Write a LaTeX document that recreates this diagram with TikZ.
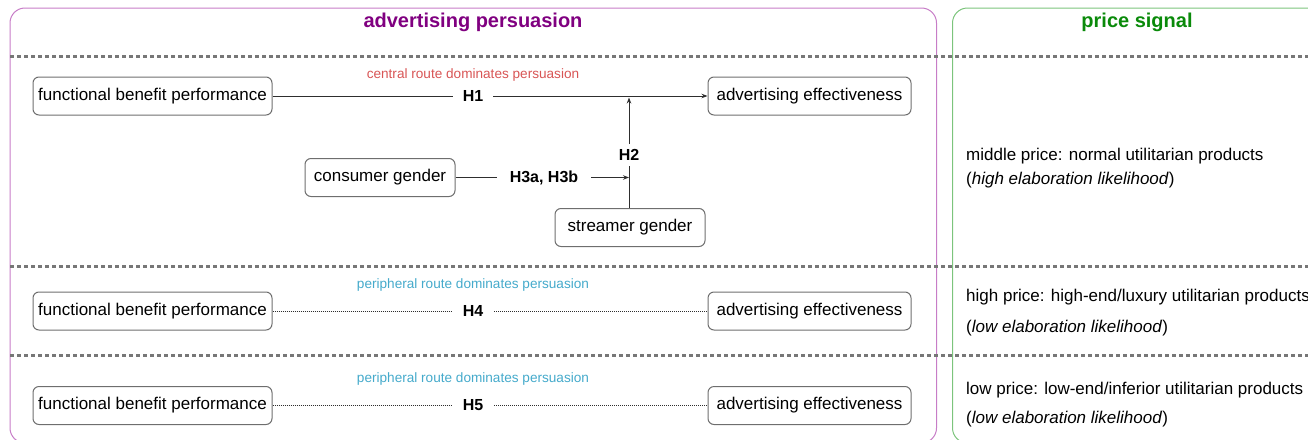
\documentclass[tikz,border=0pt]{standalone}
\usepackage{fontspec}
\setmainfont{Liberation Sans}
\usetikzlibrary{arrows.meta}
\definecolor{purpbox}{HTML}{C77DC7}
\definecolor{purptitle}{HTML}{800080}
\definecolor{greenbox}{HTML}{7CC47C}
\definecolor{greentitle}{HTML}{0A8A0A}
\definecolor{redlabel}{HTML}{D85555}
\definecolor{cyanlabel}{HTML}{45AACB}
\definecolor{dashgray}{HTML}{777777}
\definecolor{boxgray}{HTML}{6E6E6E}
\definecolor{linegray}{HTML}{2E2E2E}
\tikzset{
  boxnode/.style={draw=boxgray, line width=1pt, rounded corners=6pt, minimum height=38pt, inner xsep=3pt, text=black, font=\fontsize{17}{20}\selectfont},
  hlabel/.style={font=\bfseries\fontsize{16}{19}\selectfont, inner ysep=3pt},
  routelabel/.style={font=\fontsize{13.6}{16}\selectfont},
  sidetext/.style={anchor=west, inner sep=0pt, font=\fontsize{17}{20}\selectfont},
  titletext/.style={font=\bfseries\fontsize{20}{24}\selectfont},
  sepline/.style={draw=dashgray, line width=2.2pt, dash pattern=on 4pt off 3pt},
  solidconn/.style={draw=linegray, line width=1pt},
  dotconn/.style={draw=linegray, line width=0.8pt, dash pattern=on 1pt off 1pt},
  tip/.style={-{Stealth[length=6pt,width=4.5pt]}}
}
\begin{document}
\begin{tikzpicture}[x=1pt,y=-1pt]
\useasboundingbox (0,0) rectangle (1308,439);
% panels
\draw[purpbox, line width=1pt, rounded corners=15pt] (10,8) rectangle (936.5,443);
\draw[greenbox, line width=1pt, rounded corners=15pt] (952.5,8) rectangle (1340,443);
% titles
\node[titletext, text=purptitle] (t1) at (473,22) {advertising persuasion};
\node[titletext, text=greentitle] (t2) at (1137,22) {price signal};
% separators
\draw[sepline] (10,56.5) -- (1308,56.5);
\draw[sepline] (10,266.5) -- (1308,266.5);
\draw[sepline] (10,355.5) -- (1308,355.5);
% row 1
\node[boxnode, minimum width=239pt] (fbpA) at (152.5,96) {functional benefit performance};
\node[boxnode, minimum width=203pt] (aeA) at (809.5,96) {advertising effectiveness};
\node[routelabel, text=redlabel] (r1) at (473,75) {central route dominates persuasion};
\node[hlabel, inner xsep=10pt] (h1) at (473,96) {H1};
\draw[solidconn] (fbpA) -- (h1);
\draw[solidconn, tip] (h1) -- (aeA);
\node[boxnode, minimum width=150pt] (cg) at (380,177.5) {consumer gender};
\node[boxnode, minimum width=150pt] (sg) at (630,227.5) {streamer gender};
\coordinate (j1) at (629,97.5);
\coordinate (j2) at (629,177.5);
\node[hlabel, inner xsep=4pt, inner ysep=5pt] (h2) at (629,155) {H2};
\node[hlabel, inner xsep=13pt] (h3) at (544,177.5) {H3a, H3b};
\draw[solidconn] (sg.north -| j2) -- (h2);
\draw[solidconn, tip] (h2) -- (j1);
\draw[solidconn] (cg) -- (h3);
\draw[solidconn, tip] (h3) -- (j2);
% row 2
\node[boxnode, minimum width=239pt] (fbpB) at (152.5,311) {functional benefit performance};
\node[boxnode, minimum width=203pt] (aeB) at (809.5,311) {advertising effectiveness};
\node[routelabel, text=cyanlabel] (r2) at (473,285) {peripheral route dominates persuasion};
\node[hlabel, inner xsep=11pt] (h4) at (473,311) {H4};
\draw[dotconn] (fbpB) -- (h4);
\draw[dotconn] (h4) -- (aeB);
% row 3
\node[boxnode, minimum width=239pt] (fbpC) at (152.5,405.5) {functional benefit performance};
\node[boxnode, minimum width=203pt] (aeC) at (809.5,405.5) {advertising effectiveness};
\node[routelabel, text=cyanlabel] (r3) at (473,379) {peripheral route dominates persuasion};
\node[hlabel, inner xsep=11pt] (h5) at (473,405.5) {H5};
\draw[dotconn] (fbpC) -- (h5);
\draw[dotconn] (h5) -- (aeC);
% price signal texts
\node[sidetext] (m1) at (966,156) {middle price: normal utilitarian products};
\node[sidetext] (m2) at (966,180) {(\textit{high elaboration likelihood})};
\node[sidetext] (p1) at (966,297) {high price: high-end/luxury utilitarian products};
\node[sidetext] (p2) at (966,328) {(\textit{low elaboration likelihood})};
\node[sidetext] (l1) at (966,390) {low price: low-end/inferior utilitarian products};
\node[sidetext] (l2) at (966,419) {(\textit{low elaboration likelihood})};
\end{tikzpicture}
\end{document}
